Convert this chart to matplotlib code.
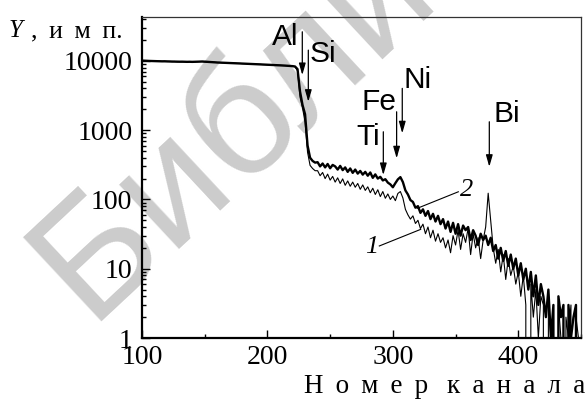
import numpy as np
import matplotlib
matplotlib.use("Agg")
import matplotlib.pyplot as plt
from matplotlib import ticker

# Spectrum: counts per channel (every second channel, 100 ... 448)
CH_START, CH_STOP, CH_STEP = 100, 450, 2

spectrum_1 = [
    # 100-118
    10000, 10080, 9970, 10010, 9930, 9950, 9880, 9900, 9830, 9870,
    # 120-138
    9800, 9830, 9760, 9800, 9730, 9760, 9710, 9730, 9670, 9700,
    # 140-158
    9660, 9690, 9740, 9790, 9770, 9700, 9630, 9610, 9540, 9530,
    # 160-178
    9460, 9470, 9400, 9390, 9330, 9340, 9270, 9260, 9200, 9190,
    # 180-198
    9130, 9130, 9070, 9060, 9000, 8990, 8930, 8920, 8860, 8850,
    # 200-218
    8790, 8780, 8720, 8710, 8650, 8640, 8580, 8560, 8490, 8470,
    # 220-238
    8380, 8250, 7200, 3000, 2100, 1300, 480, 310, 280, 260,
    # 240-258
    260, 220, 245, 200, 232, 190, 215, 178, 205, 170,
    # 260-278
    198, 160, 185, 155, 178, 150, 170, 140, 162, 135,
    # 280-298
    152, 125, 145, 118, 138, 110, 130, 104, 120, 100,
    # 300-318
    112, 96, 122, 130, 105, 72, 60, 52, 58, 45,
    # 320-338
    50, 38, 44, 32, 40, 28, 36, 25, 32, 24,
    # 340-358
    28, 20, 26, 17, 30, 22, 36, 19, 32, 24,
    # 360-378
    38, 16, 32, 20, 28, 14, 26, 40, 123, 50,
    # 380-398
    20, 12, 19, 9, 16, 7, 14, 8, 11, 6,
    # 400-418
    9, 4, 8, 3, 0, 6, 2, 5, 1, 4,
    # 420-448
    3, 0, 4, 1, 2, 0, 3, 1, 0, 2, 1, 3, 0, 2, 1,
]

spectrum_2 = [
    # 100-118
    10100, 10050, 10000, 9980, 9950, 9900, 9920, 9870, 9850, 9860,
    # 120-138
    9820, 9800, 9780, 9790, 9750, 9730, 9740, 9700, 9690, 9710,
    # 140-158
    9680, 9700, 9720, 9760, 9800, 9740, 9650, 9600, 9560, 9520,
    # 160-178
    9480, 9450, 9430, 9380, 9350, 9330, 9280, 9250, 9220, 9180,
    # 180-198
    9150, 9120, 9080, 9050, 9010, 8980, 8940, 8900, 8870, 8840,
    # 200-218
    8800, 8770, 8730, 8700, 8660, 8620, 8590, 8550, 8500, 8460,
    # 220-238
    8400, 8300, 7600, 3600, 2300, 1700, 600, 400, 360, 340,
    # 240-258
    345, 300, 330, 290, 325, 282, 315, 300, 270, 305,
    # 260-278
    265, 290, 250, 280, 242, 270, 236, 258, 228, 250,
    # 280-298
    220, 245, 205, 230, 200, 212, 188, 196, 175, 165,
    # 300-318
    150, 172, 195, 210, 178, 135, 118, 98, 92, 76,
    # 320-338
    80, 64, 72, 58, 68, 52, 62, 48, 58, 44,
    # 340-358
    52, 38, 48, 34, 46, 32, 44, 30, 42, 36,
    # 360-378
    40, 26, 36, 30, 22, 32, 26, 30, 22, 28,
    # 380-398
    18, 22, 14, 20, 13, 18, 11, 16, 10, 14,
    # 400-418
    8, 12, 7, 10, 5, 9, 4, 8, 3, 6,
    # 420-448
    4, 2, 5, 1, 3, 0, 4, 2, 3, 0, 3, 1, 2, 3, 0,
]

channels = np.arange(CH_START, CH_STOP, CH_STEP)

# Element markers
elements = ["Al", "Si", "Ti", "Fe", "Ni", "Bi"]
arrow_channel = [227.8, 232.6, 292.4, 303.0, 307.5, 376.9]
arrow_from = [26300, 14300, 948, 1842, 4010, 1322]
arrow_to = [6240, 2570, 225, 392, 900, 296]
label_channel = [214.4, 244.6, 280.4, 289.1, 319.6, 390.6]
label_level = [16900, 9700, 610, 1950, 4010, 1320]

y_ticks = [1, 10, 100, 1000, 10000]
x_ticks = [100, 200, 300, 400]

SERIF = ["Liberation Serif", "DejaVu Serif"]
SANS = ["Liberation Sans", "DejaVu Sans"]
plt.rcParams["font.family"] = SERIF

fig = plt.figure(figsize=(5.88, 3.99), dpi=100)
fig.patch.set_facecolor("white")

# Library watermark behind everything
fig.text(88 / 588, 1 - 322 / 399, "Библиотека", rotation=43,
         rotation_mode="anchor", ha="left", va="baseline",
         fontsize=120, family=SANS, color="#cccccc", zorder=-5)

ax = fig.add_axes([142 / 588, 1 - 338 / 399, (581 - 142) / 588, (338 - 17) / 399])
ax.set_facecolor("none")

ax.plot(channels, spectrum_1, color="black", lw=0.8, zorder=3)
ax.plot(channels, spectrum_2, color="black", lw=1.7, zorder=3)

ax.set_yscale("log", nonpositive="clip")
ax.set_xlim(100, 450)
ax.set_ylim(1, 43000)

ax.yaxis.set_major_locator(ticker.FixedLocator(y_ticks))
ax.yaxis.set_major_formatter(ticker.FuncFormatter(lambda v, p: f"{int(round(v))}"))
ax.yaxis.set_minor_locator(ticker.LogLocator(base=10, subs=np.arange(2, 10)))
ax.yaxis.set_minor_formatter(ticker.NullFormatter())
ax.xaxis.set_major_locator(ticker.FixedLocator(x_ticks))
ax.xaxis.set_minor_locator(ticker.MultipleLocator(50))

ax.tick_params(which="both", direction="in", top=False, right=False, width=1)
ax.tick_params(which="major", length=6, labelsize=20, pad=7)
ax.tick_params(which="minor", length=3)
ax.tick_params(axis="x", which="major", pad=5)

for side in ("left", "bottom"):
    ax.spines[side].set_linewidth(1.6)
for side in ("top", "right"):
    ax.spines[side].set_linewidth(0.9)
    ax.spines[side].set_color("#333333")

# Element arrows and names
for name, ch, y0, y1, lx, ly in zip(elements, arrow_channel, arrow_from, arrow_to,
                                     label_channel, label_level):
    ax.annotate("", xy=(ch, y1), xytext=(ch, y0),
                arrowprops=dict(arrowstyle="-|>,head_length=0.7,head_width=0.2",
                                color="black", lw=0.9, shrinkA=0, shrinkB=0,
                                mutation_scale=10),
                zorder=4)
    ax.text(lx, ly, name, ha="center", va="baseline", fontsize=21.5,
            family=SANS, color="black", zorder=4)

# Curve numbers with leader lines
ax.plot([352.2, 319.5], [129, 74.5], color="black", lw=0.8, zorder=4)
ax.plot([289.2, 322.2], [21.3, 37], color="black", lw=0.8, zorder=4)
ax.text(358.9, 137, "2", ha="center", va="center", fontsize=19,
        style="italic", zorder=4)
ax.text(283.1, 20.8, "1", ha="center", va="center", fontsize=19,
        style="italic", zorder=4)

# Axis titles
fig.text(9 / 588, 1 - 37 / 399, "Y", ha="left", va="baseline", fontsize=18,
         style="italic")
fig.text(31 / 588, 1 - 37 / 399, ", \u2009и \u2009м \u2009п.", ha="left",
         va="baseline", fontsize=18.5)
fig.text(585 / 588, 1 - 393 / 399,
         "Н \u2009о \u2009м \u2009е \u2009р  \u2009к \u2009а \u2009н \u2009а \u2009л \u2009а",
         ha="right", va="baseline", fontsize=19.5)

fig.savefig("out.png", dpi=100, facecolor="white")
